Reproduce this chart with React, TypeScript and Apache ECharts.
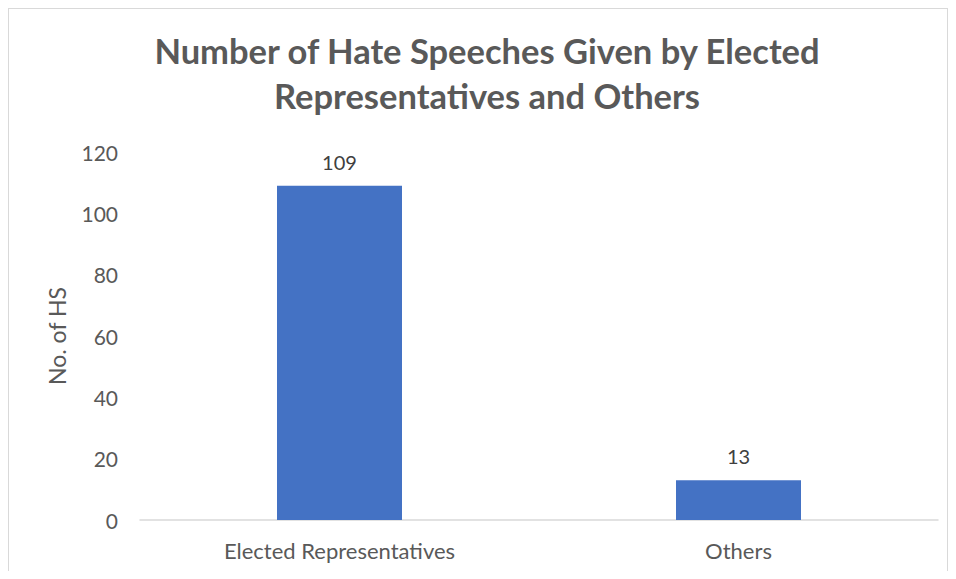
import React, { useEffect, useRef } from "react";
import * as echarts from "echarts";

const categories = ["Elected Representatives", "Others"];
const values = [109, 13];
const yTicks = [0, 20, 40, 60, 80, 100, 120];

export default function App() {
  const ref = useRef<HTMLDivElement>(null);
  useEffect(() => {
    if (!ref.current) return;
    const chart = echarts.init(ref.current, undefined, { renderer: "svg" });
    const font = "Lato, 'Open Sans', sans-serif";
    chart.setOption({
      animation: false,
      title: {
        text: "Number of Hate Speeches Given by Elected\nRepresentatives and Others",
        left: 479,
        textAlign: "center",
        top: 20,
        padding: 0,
        textStyle: {
          fontFamily: font,
          fontWeight: "bold",
          fontSize: 34.5,
          lineHeight: 45,
          color: "#595959",
        },
      },
      grid: { left: 132, right: 10, top: 144, bottom: 51 },
      xAxis: {
        type: "category",
        data: categories,
        axisTick: { show: false },
        axisLine: { lineStyle: { color: "#d9d9d9", width: 1.5 } },
        axisLabel: { color: "#595959", fontFamily: font, fontSize: 22, margin: 19 },
      },
      yAxis: {
        type: "value",
        min: yTicks[0],
        max: yTicks[yTicks.length - 1],
        interval: 20,
        name: "No. of HS",
        nameLocation: "middle",
        nameGap: 72,
        nameTextStyle: { color: "#595959", fontFamily: font, fontSize: 23 },
        splitLine: { show: false },
        axisLine: { show: false },
        axisTick: { show: false },
        axisLabel: { color: "#595959", fontFamily: font, fontSize: 21, margin: 22 },
      },
      series: [
        {
          type: "bar",
          data: values,
          barWidth: 125,
          itemStyle: { color: "#4472C4" },
          label: {
            show: true,
            position: "top",
            distance: 14,
            color: "#404040",
            fontFamily: font,
            fontSize: 20,
          },
        },
      ],
    });
    return () => chart.dispose();
  }, []);
  return (
    <div
      style={{
        position: "relative",
        width: 940,
        height: 563,
        boxSizing: "border-box",
        borderTop: "1px solid #d9d9d9",
        borderLeft: "1px solid #d9d9d9",
        borderRight: "1px solid #d9d9d9",
        background: "#fff",
      }}
    >
      <div ref={ref} style={{ position: "absolute", left: -1, top: -1, width: 940, height: 563 }} />
    </div>
  );
}
